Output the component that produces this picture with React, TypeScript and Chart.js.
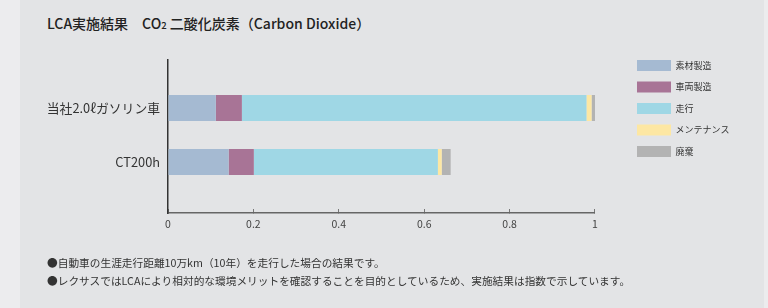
import React, { useEffect, useRef } from 'react';
import { Chart, registerables } from 'chart.js';

Chart.register(...registerables);

const categories = ['当社2.0ℓガソリン車', 'CT200h'];
const seriesNames = ['素材製造', '車両製造', '走行', 'メンテナンス', '廃棄'];
const materialValues = [0.112, 0.142];
const vehicleValues = [0.061, 0.059];
const drivingValues = [0.807, 0.431];
const maintenanceValues = [0.012, 0.009];
const disposalValues = [0.008, 0.021];
const xTickValues = [0, 0.2, 0.4, 0.6, 0.8, 1];
const seriesColors = ['#a5bad2', '#a87496', '#9fd7e5', '#fde7a3', '#b3b3b3'];

const FONT = "'Noto Sans CJK JP', 'Noto Sans', sans-serif";

export default function App() {
  const ref = useRef<HTMLCanvasElement | null>(null);

  useEffect(() => {
    if (!ref.current) return;
    Chart.defaults.font.family = FONT;
    const allSeries = [materialValues, vehicleValues, drivingValues, maintenanceValues, disposalValues];
    const chart = new Chart(ref.current, {
      type: 'bar',
      data: {
        datasets: allSeries.map((vals, si) => ({
          label: seriesNames[si],
          data: vals.map((v, i) => ({ x: v, y: i + 1 })),
          backgroundColor: seriesColors[si],
          borderWidth: 0,
          grouped: false,
          maxBarThickness: 26,
        })),
      },
      options: {
        indexAxis: 'y',
        animation: false,
        responsive: false,
        maintainAspectRatio: false,
        layout: { padding: { left: 0, top: 49.5, right: 28.5, bottom: 0 } },
        plugins: {
          legend: {
            position: 'right',
            align: 'start',
            labels: {
              boxWidth: 34,
              boxHeight: 11,
              padding: 10.5,
              color: '#333',
              font: { family: FONT, size: 9 },
            },
          },
          tooltip: { enabled: false },
        },
        scales: {
          x: {
            type: 'linear',
            stacked: true,
            min: 0,
            max: 1,
            position: 'bottom',
            afterBuildTicks: (s: any) => {
              s.ticks = xTickValues.map((v) => ({ value: v }));
            },
            ticks: {
              callback: (v: any) => String(Math.round(Number(v) * 10) / 10),
              color: '#444',
              font: { family: FONT, size: 10.5 },
              padding: 9,
              maxRotation: 0,
              autoSkip: false,
            },
            grid: { drawOnChartArea: false, drawTicks: true, tickLength: -4, color: '#777', lineWidth: 1 },
            border: { color: '#666', width: 1.5 },
            afterFit: (s: any) => {
              s.height = 95;
            },
          },
          y: {
            type: 'linear',
            stacked: false,
            offset: false,
            reverse: true,
            min: 0.111,
            max: 2.944,
            position: 'left',
            afterBuildTicks: (s: any) => {
              s.ticks = categories.map((_, i) => ({ value: i + 1 }));
            },
            ticks: {
              callback: (v: any) => categories[Math.round(Number(v)) - 1] ?? '',
              color: '#333',
              font: { family: FONT, size: 12.8 },
              padding: 8,
              autoSkip: false,
            },
            grid: { display: false, drawTicks: false },
            border: { color: '#333', width: 1.5 },
            afterFit: (s: any) => {
              s.width = 168;
            },
          },
          spacerRight: {
            type: 'linear',
            position: 'right',
            display: true,
            ticks: { display: false },
            grid: { display: false, drawTicks: false },
            border: { display: false },
            afterFit: (s: any) => {
              s.width = 31.5;
            },
          },
          spacerTop: {
            type: 'linear',
            axis: 'x',
            position: 'top',
            display: true,
            ticks: { display: false },
            grid: { display: false, drawTicks: false },
            border: { display: false },
            afterFit: (s: any) => {
              s.height = 10.5;
            },
          },
        },
      } as any,
    });
    return () => chart.destroy();
  }, []);

  return (
    <div
      style={{
        position: 'fixed',
        left: 0,
        top: 0,
        width: 768,
        height: 308,
        background: '#ececee',
        overflow: 'hidden',
        fontFamily: FONT,
      }}
    >
      <div style={{ position: 'absolute', left: 20, top: 0, width: 744, height: 308, background: '#e3e4e6' }} />
      <div
        style={{
          position: 'absolute',
          left: 47,
          top: 16,
          fontSize: 14,
          lineHeight: '14px',
          fontWeight: 500,
          color: '#222',
          whiteSpace: 'nowrap',
        }}
      >
        LCA実施結果　CO<span style={{ fontSize: 9.5 }}>2</span> 二酸化炭素（Carbon Dioxide）
      </div>
      <canvas ref={ref} width={768} height={308} style={{ position: 'absolute', left: 0, top: 0 }} />
      <div
        style={{
          position: 'absolute',
          left: 47,
          top: 254,
          fontSize: 10.7,
          lineHeight: '18px',
          color: '#333',
          whiteSpace: 'nowrap',
        }}
      >
        <div>●自動車の生涯走行距離10万km（10年）を走行した場合の結果です。</div>
        <div>●レクサスではLCAにより相対的な環境メリットを確認することを目的としているため、実施結果は指数で示しています。</div>
      </div>
    </div>
  );
}
